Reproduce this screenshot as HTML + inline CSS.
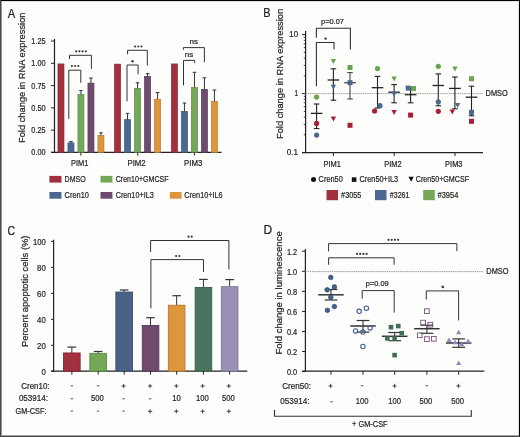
<!DOCTYPE html>
<html><head><meta charset="utf-8"><style>
html,body{margin:0;padding:0;background:#fdfdfb;}
body{width:520px;height:437px;overflow:hidden;position:relative;}
svg{position:absolute;left:0;top:0;will-change:transform;}
svg text{font-family:"Liberation Sans", sans-serif;stroke:#2a2a2a;stroke-width:0.22px;}
</style></head><body>
<svg width="520" height="437" viewBox="0 0 520 437">
<rect x="0" y="0" width="520" height="437" fill="#fdfdfb"/>
<text x="7.70" y="17.60" font-size="12.3" text-anchor="start" fill="#222" textLength="7.5" lengthAdjust="spacingAndGlyphs">A</text>
<text transform="translate(25.4,143) rotate(-90)" font-size="9.7" textLength="130.5" lengthAdjust="spacingAndGlyphs" fill="#222">Fold change in RNA expression</text>
<line x1="54.50" y1="39.00" x2="54.50" y2="152.90" stroke="#222" stroke-width="1.2" />
<line x1="51.00" y1="152.40" x2="221.50" y2="152.40" stroke="#222" stroke-width="1.2" />
<line x1="51.00" y1="152.40" x2="54.50" y2="152.40" stroke="#222" stroke-width="1.0" />
<text x="45.60" y="155.40" font-size="8.8" text-anchor="end" fill="#222" textLength="14.3" lengthAdjust="spacingAndGlyphs">0.00</text>
<line x1="51.00" y1="130.12" x2="54.50" y2="130.12" stroke="#222" stroke-width="1.0" />
<text x="45.60" y="133.12" font-size="8.8" text-anchor="end" fill="#222" textLength="14.3" lengthAdjust="spacingAndGlyphs">0.25</text>
<line x1="51.00" y1="107.85" x2="54.50" y2="107.85" stroke="#222" stroke-width="1.0" />
<text x="45.60" y="110.85" font-size="8.8" text-anchor="end" fill="#222" textLength="14.3" lengthAdjust="spacingAndGlyphs">0.50</text>
<line x1="51.00" y1="85.58" x2="54.50" y2="85.58" stroke="#222" stroke-width="1.0" />
<text x="45.60" y="88.58" font-size="8.8" text-anchor="end" fill="#222" textLength="14.3" lengthAdjust="spacingAndGlyphs">0.75</text>
<line x1="51.00" y1="63.30" x2="54.50" y2="63.30" stroke="#222" stroke-width="1.0" />
<text x="45.60" y="66.30" font-size="8.8" text-anchor="end" fill="#222" textLength="14.3" lengthAdjust="spacingAndGlyphs">1.00</text>
<line x1="51.00" y1="41.03" x2="54.50" y2="41.03" stroke="#222" stroke-width="1.0" />
<text x="45.60" y="44.03" font-size="8.8" text-anchor="end" fill="#222" textLength="14.3" lengthAdjust="spacingAndGlyphs">1.25</text>
<rect x="57.95" y="63.95" width="6.00" height="88.45" fill="#a3303f" stroke="#852733" stroke-width="0.7"/>
<line x1="70.95" y1="141.60" x2="70.95" y2="143.60" stroke="#333" stroke-width="1.0" />
<line x1="69.15" y1="141.60" x2="72.75" y2="141.60" stroke="#333" stroke-width="1.0" />
<rect x="67.95" y="142.95" width="6.00" height="9.45" fill="#4a6890" stroke="#3c5576" stroke-width="0.7"/>
<line x1="80.95" y1="90.60" x2="80.95" y2="95.10" stroke="#333" stroke-width="1.0" />
<line x1="79.15" y1="90.60" x2="82.75" y2="90.60" stroke="#333" stroke-width="1.0" />
<rect x="77.95" y="94.45" width="6.00" height="57.95" fill="#74a858" stroke="#5f8948" stroke-width="0.7"/>
<line x1="90.95" y1="78.00" x2="90.95" y2="83.80" stroke="#333" stroke-width="1.0" />
<line x1="89.15" y1="78.00" x2="92.75" y2="78.00" stroke="#333" stroke-width="1.0" />
<rect x="87.95" y="83.15" width="6.00" height="69.25" fill="#6d4a6e" stroke="#593c5a" stroke-width="0.7"/>
<line x1="100.95" y1="132.80" x2="100.95" y2="136.00" stroke="#333" stroke-width="1.0" />
<line x1="99.15" y1="132.80" x2="102.75" y2="132.80" stroke="#333" stroke-width="1.0" />
<rect x="97.95" y="135.35" width="6.00" height="17.05" fill="#dc963c" stroke="#b47a31" stroke-width="0.7"/>
<rect x="114.55" y="64.15" width="6.00" height="88.25" fill="#a3303f" stroke="#852733" stroke-width="0.7"/>
<line x1="127.55" y1="113.40" x2="127.55" y2="120.30" stroke="#333" stroke-width="1.0" />
<line x1="125.75" y1="113.40" x2="129.35" y2="113.40" stroke="#333" stroke-width="1.0" />
<rect x="124.55" y="119.65" width="6.00" height="32.75" fill="#4a6890" stroke="#3c5576" stroke-width="0.7"/>
<line x1="137.55" y1="82.80" x2="137.55" y2="89.00" stroke="#333" stroke-width="1.0" />
<line x1="135.75" y1="82.80" x2="139.35" y2="82.80" stroke="#333" stroke-width="1.0" />
<rect x="134.55" y="88.35" width="6.00" height="64.05" fill="#74a858" stroke="#5f8948" stroke-width="0.7"/>
<line x1="147.55" y1="73.60" x2="147.55" y2="77.00" stroke="#333" stroke-width="1.0" />
<line x1="145.75" y1="73.60" x2="149.35" y2="73.60" stroke="#333" stroke-width="1.0" />
<rect x="144.55" y="76.35" width="6.00" height="76.05" fill="#6d4a6e" stroke="#593c5a" stroke-width="0.7"/>
<line x1="157.55" y1="92.50" x2="157.55" y2="99.90" stroke="#333" stroke-width="1.0" />
<line x1="155.75" y1="92.50" x2="159.35" y2="92.50" stroke="#333" stroke-width="1.0" />
<rect x="154.55" y="99.25" width="6.00" height="53.15" fill="#dc963c" stroke="#b47a31" stroke-width="0.7"/>
<rect x="171.45" y="63.95" width="6.00" height="88.45" fill="#a3303f" stroke="#852733" stroke-width="0.7"/>
<line x1="184.45" y1="103.00" x2="184.45" y2="112.00" stroke="#333" stroke-width="1.0" />
<line x1="182.65" y1="103.00" x2="186.25" y2="103.00" stroke="#333" stroke-width="1.0" />
<rect x="181.45" y="111.35" width="6.00" height="41.05" fill="#4a6890" stroke="#3c5576" stroke-width="0.7"/>
<line x1="194.45" y1="72.30" x2="194.45" y2="88.00" stroke="#333" stroke-width="1.0" />
<line x1="192.65" y1="72.30" x2="196.25" y2="72.30" stroke="#333" stroke-width="1.0" />
<rect x="191.45" y="87.35" width="6.00" height="65.05" fill="#74a858" stroke="#5f8948" stroke-width="0.7"/>
<line x1="204.45" y1="77.80" x2="204.45" y2="90.00" stroke="#333" stroke-width="1.0" />
<line x1="202.65" y1="77.80" x2="206.25" y2="77.80" stroke="#333" stroke-width="1.0" />
<rect x="201.45" y="89.35" width="6.00" height="63.05" fill="#6d4a6e" stroke="#593c5a" stroke-width="0.7"/>
<line x1="214.45" y1="90.00" x2="214.45" y2="102.20" stroke="#333" stroke-width="1.0" />
<line x1="212.65" y1="90.00" x2="216.25" y2="90.00" stroke="#333" stroke-width="1.0" />
<rect x="211.45" y="101.55" width="6.00" height="50.85" fill="#dc963c" stroke="#b47a31" stroke-width="0.7"/>
<line x1="80.90" y1="152.40" x2="80.90" y2="155.60" stroke="#222" stroke-width="1.0" />
<text x="79.70" y="166.30" font-size="8.8" text-anchor="middle" fill="#222" textLength="17.4" lengthAdjust="spacingAndGlyphs">PIM1</text>
<line x1="137.80" y1="152.40" x2="137.80" y2="155.60" stroke="#222" stroke-width="1.0" />
<text x="136.60" y="166.30" font-size="8.8" text-anchor="middle" fill="#222" textLength="18.2" lengthAdjust="spacingAndGlyphs">PIM2</text>
<line x1="194.40" y1="152.40" x2="194.40" y2="155.60" stroke="#222" stroke-width="1.0" />
<text x="193.20" y="166.30" font-size="8.8" text-anchor="middle" fill="#222" textLength="18.2" lengthAdjust="spacingAndGlyphs">PIM3</text>
<path d="M68.8,118.9 V70.2 H80.8 V82.8" fill="none" stroke="#333" stroke-width="1.0" />
<path d="M69.5,59.1 V55.3 H91.4 V68.9" fill="none" stroke="#333" stroke-width="1.0" />
<circle cx="71.90" cy="66.00" r="1.1" fill="#3a3a3a"/>
<circle cx="75.10" cy="66.00" r="1.1" fill="#3a3a3a"/>
<circle cx="78.30" cy="66.00" r="1.1" fill="#3a3a3a"/>
<circle cx="76.20" cy="51.30" r="1.1" fill="#3a3a3a"/>
<circle cx="79.40" cy="51.30" r="1.1" fill="#3a3a3a"/>
<circle cx="82.60" cy="51.30" r="1.1" fill="#3a3a3a"/>
<circle cx="85.80" cy="51.30" r="1.1" fill="#3a3a3a"/>
<path d="M127,101.4 V65 H138.1 V74.3" fill="none" stroke="#333" stroke-width="1.0" />
<path d="M127.6,54.4 V50.3 H147.3 V65.4" fill="none" stroke="#333" stroke-width="1.0" />
<circle cx="132.50" cy="61.20" r="1.2" fill="#3a3a3a"/>
<circle cx="135.10" cy="46.50" r="1.1" fill="#3a3a3a"/>
<circle cx="138.30" cy="46.50" r="1.1" fill="#3a3a3a"/>
<circle cx="141.50" cy="46.50" r="1.1" fill="#3a3a3a"/>
<path d="M183.5,85.4 V60.4 H194.7 V63.1" fill="none" stroke="#333" stroke-width="1.0" />
<path d="M183.4,49.8 V47.6 H204.4 V62.2" fill="none" stroke="#333" stroke-width="1.0" />
<text x="189.00" y="57.00" font-size="8" text-anchor="middle" fill="#222" >ns</text>
<text x="193.80" y="43.90" font-size="8" text-anchor="middle" fill="#222" >ns</text>
<rect x="49.40" y="175.90" width="12.10" height="6.70" fill="#a3303f" />
<text x="64.60" y="182.20" font-size="9" text-anchor="start" fill="#222" textLength="21" lengthAdjust="spacingAndGlyphs">DMSO</text>
<rect x="100.50" y="175.90" width="11.90" height="6.70" fill="#74a858" />
<text x="115.70" y="182.40" font-size="9" text-anchor="start" fill="#222" textLength="53" lengthAdjust="spacingAndGlyphs">Cren10+GMCSF</text>
<rect x="49.40" y="192.00" width="12.10" height="6.70" fill="#4a6890" />
<text x="64.60" y="198.30" font-size="9" text-anchor="start" fill="#222" textLength="24.3" lengthAdjust="spacingAndGlyphs">Cren10</text>
<rect x="100.50" y="192.00" width="11.90" height="6.70" fill="#6d4a6e" />
<text x="115.70" y="198.30" font-size="9" text-anchor="start" fill="#222" textLength="38.0" lengthAdjust="spacingAndGlyphs">Cren10+IL3</text>
<rect x="169.80" y="192.00" width="11.80" height="6.70" fill="#dc963c" />
<text x="184.30" y="198.30" font-size="9" text-anchor="start" fill="#222" textLength="38.4" lengthAdjust="spacingAndGlyphs">Cren10+IL6</text>
<text x="263.20" y="17.20" font-size="12.3" text-anchor="start" fill="#222" textLength="7.3" lengthAdjust="spacingAndGlyphs">B</text>
<text transform="translate(283.3,139) rotate(-90)" font-size="9.7" textLength="130.1" lengthAdjust="spacingAndGlyphs" fill="#222">Fold change in RNA expression</text>
<line x1="305.60" y1="31.00" x2="305.60" y2="153.10" stroke="#222" stroke-width="1.2" />
<line x1="302.00" y1="152.60" x2="483.00" y2="152.60" stroke="#222" stroke-width="1.2" />
<line x1="302.00" y1="34.60" x2="305.60" y2="34.60" stroke="#222" stroke-width="1.0" />
<text x="298.00" y="37.10" font-size="8.8" text-anchor="end" fill="#222" textLength="8.7" lengthAdjust="spacingAndGlyphs">10</text>
<line x1="302.00" y1="93.60" x2="305.60" y2="93.60" stroke="#222" stroke-width="1.0" />
<text x="298.00" y="96.10" font-size="8.8" text-anchor="end" fill="#222" textLength="3.6" lengthAdjust="spacingAndGlyphs">1</text>
<line x1="302.00" y1="152.60" x2="305.60" y2="152.60" stroke="#222" stroke-width="1.0" />
<text x="298.00" y="155.10" font-size="8.8" text-anchor="end" fill="#222" textLength="11.3" lengthAdjust="spacingAndGlyphs">0.1</text>
<line x1="303.80" y1="134.84" x2="305.60" y2="134.84" stroke="#222" stroke-width="0.9" />
<line x1="303.80" y1="124.45" x2="305.60" y2="124.45" stroke="#222" stroke-width="0.9" />
<line x1="303.80" y1="117.08" x2="305.60" y2="117.08" stroke="#222" stroke-width="0.9" />
<line x1="303.80" y1="111.36" x2="305.60" y2="111.36" stroke="#222" stroke-width="0.9" />
<line x1="303.80" y1="106.69" x2="305.60" y2="106.69" stroke="#222" stroke-width="0.9" />
<line x1="303.80" y1="102.74" x2="305.60" y2="102.74" stroke="#222" stroke-width="0.9" />
<line x1="303.80" y1="99.32" x2="305.60" y2="99.32" stroke="#222" stroke-width="0.9" />
<line x1="303.80" y1="96.30" x2="305.60" y2="96.30" stroke="#222" stroke-width="0.9" />
<line x1="303.80" y1="75.84" x2="305.60" y2="75.84" stroke="#222" stroke-width="0.9" />
<line x1="303.80" y1="65.45" x2="305.60" y2="65.45" stroke="#222" stroke-width="0.9" />
<line x1="303.80" y1="58.08" x2="305.60" y2="58.08" stroke="#222" stroke-width="0.9" />
<line x1="303.80" y1="52.36" x2="305.60" y2="52.36" stroke="#222" stroke-width="0.9" />
<line x1="303.80" y1="47.69" x2="305.60" y2="47.69" stroke="#222" stroke-width="0.9" />
<line x1="303.80" y1="43.74" x2="305.60" y2="43.74" stroke="#222" stroke-width="0.9" />
<line x1="303.80" y1="40.32" x2="305.60" y2="40.32" stroke="#222" stroke-width="0.9" />
<line x1="303.80" y1="37.30" x2="305.60" y2="37.30" stroke="#222" stroke-width="0.9" />
<line x1="305.6" y1="93.6" x2="483" y2="93.6" stroke="#a0a0a0" stroke-width="1" stroke-dasharray="1.5,0.7"/>
<text x="485.60" y="96.40" font-size="8.6" text-anchor="start" fill="#222" textLength="22.2" lengthAdjust="spacingAndGlyphs">DMSO</text>
<line x1="333.40" y1="152.60" x2="333.40" y2="156.00" stroke="#222" stroke-width="1.0" />
<text x="332.20" y="166.60" font-size="8.8" text-anchor="middle" fill="#222" textLength="17.4" lengthAdjust="spacingAndGlyphs">PIM1</text>
<line x1="394.20" y1="152.60" x2="394.20" y2="156.00" stroke="#222" stroke-width="1.0" />
<text x="393.00" y="166.60" font-size="8.8" text-anchor="middle" fill="#222" textLength="17.4" lengthAdjust="spacingAndGlyphs">PIM2</text>
<line x1="455.00" y1="152.60" x2="455.00" y2="156.00" stroke="#222" stroke-width="1.0" />
<text x="453.80" y="166.60" font-size="8.8" text-anchor="middle" fill="#222" textLength="17.4" lengthAdjust="spacingAndGlyphs">PIM3</text>
<line x1="316.60" y1="104.00" x2="316.60" y2="128.60" stroke="#222" stroke-width="1.1" />
<line x1="313.80" y1="104.00" x2="319.40" y2="104.00" stroke="#222" stroke-width="1.1" />
<line x1="313.80" y1="128.60" x2="319.40" y2="128.60" stroke="#222" stroke-width="1.1" />
<line x1="310.80" y1="113.40" x2="322.40" y2="113.40" stroke="#222" stroke-width="1.3" />
<circle cx="316.60" cy="97.10" r="2.6" fill="#68a44e"/>
<circle cx="316.60" cy="123.40" r="2.6" fill="#a81e37"/>
<circle cx="316.60" cy="135.10" r="2.6" fill="#4a6890"/>
<line x1="333.40" y1="68.80" x2="333.40" y2="100.20" stroke="#222" stroke-width="1.1" />
<line x1="330.60" y1="68.80" x2="336.20" y2="68.80" stroke="#222" stroke-width="1.1" />
<line x1="330.60" y1="100.20" x2="336.20" y2="100.20" stroke="#222" stroke-width="1.1" />
<line x1="327.60" y1="80.00" x2="339.20" y2="80.00" stroke="#222" stroke-width="1.3" />
<path d="M330.70,59.10 H336.10 L333.40,64.10 Z" fill="#68a44e"/>
<path d="M330.70,84.80 H336.10 L333.40,89.80 Z" fill="#4a6890"/>
<path d="M330.70,116.60 H336.10 L333.40,121.60 Z" fill="#a81e37"/>
<line x1="350.00" y1="72.60" x2="350.00" y2="99.00" stroke="#444" stroke-width="1.1" />
<line x1="347.20" y1="72.60" x2="352.80" y2="72.60" stroke="#444" stroke-width="1.1" />
<line x1="347.20" y1="99.00" x2="352.80" y2="99.00" stroke="#444" stroke-width="1.1" />
<line x1="344.20" y1="82.70" x2="355.80" y2="82.70" stroke="#444" stroke-width="1.3" />
<rect x="347.50" y="65.00" width="5.0" height="5.0" fill="#68a44e"/>
<rect x="347.50" y="80.20" width="5.0" height="5.0" fill="#4a6890"/>
<rect x="347.50" y="122.80" width="5.0" height="5.0" fill="#a81e37"/>
<line x1="377.50" y1="76.40" x2="377.50" y2="108.00" stroke="#222" stroke-width="1.1" />
<line x1="374.70" y1="76.40" x2="380.30" y2="76.40" stroke="#222" stroke-width="1.1" />
<line x1="374.70" y1="108.00" x2="380.30" y2="108.00" stroke="#222" stroke-width="1.1" />
<line x1="371.70" y1="87.70" x2="383.30" y2="87.70" stroke="#222" stroke-width="1.3" />
<circle cx="377.50" cy="68.60" r="2.6" fill="#68a44e"/>
<circle cx="380.00" cy="105.70" r="2.6" fill="#4a6890"/>
<circle cx="374.60" cy="111.00" r="2.6" fill="#a81e37"/>
<line x1="394.10" y1="84.60" x2="394.10" y2="102.80" stroke="#222" stroke-width="1.1" />
<line x1="391.30" y1="84.60" x2="396.90" y2="84.60" stroke="#222" stroke-width="1.1" />
<line x1="391.30" y1="102.80" x2="396.90" y2="102.80" stroke="#222" stroke-width="1.1" />
<line x1="388.30" y1="92.20" x2="399.90" y2="92.20" stroke="#222" stroke-width="1.3" />
<path d="M391.40,76.40 H396.80 L394.10,81.40 Z" fill="#68a44e"/>
<path d="M391.40,91.70 H396.80 L394.10,96.70 Z" fill="#4a6890"/>
<path d="M391.40,109.90 H396.80 L394.10,114.90 Z" fill="#a81e37"/>
<line x1="410.60" y1="88.00" x2="410.60" y2="102.80" stroke="#222" stroke-width="1.1" />
<line x1="407.80" y1="88.00" x2="413.40" y2="88.00" stroke="#222" stroke-width="1.1" />
<line x1="407.80" y1="102.80" x2="413.40" y2="102.80" stroke="#222" stroke-width="1.1" />
<line x1="404.80" y1="94.70" x2="416.40" y2="94.70" stroke="#222" stroke-width="1.3" />
<rect x="405.70" y="85.60" width="5.0" height="5.0" fill="#4a6890"/>
<rect x="411.00" y="86.00" width="5.0" height="5.0" fill="#68a44e"/>
<rect x="408.10" y="112.60" width="5.0" height="5.0" fill="#a81e37"/>
<line x1="438.30" y1="73.90" x2="438.30" y2="105.80" stroke="#222" stroke-width="1.1" />
<line x1="435.50" y1="73.90" x2="441.10" y2="73.90" stroke="#222" stroke-width="1.1" />
<line x1="435.50" y1="105.80" x2="441.10" y2="105.80" stroke="#222" stroke-width="1.1" />
<line x1="432.50" y1="85.50" x2="444.10" y2="85.50" stroke="#222" stroke-width="1.3" />
<circle cx="438.30" cy="66.30" r="2.6" fill="#68a44e"/>
<circle cx="438.30" cy="101.80" r="2.6" fill="#4a6890"/>
<circle cx="438.30" cy="111.30" r="2.6" fill="#a81e37"/>
<line x1="454.90" y1="77.00" x2="454.90" y2="108.80" stroke="#222" stroke-width="1.1" />
<line x1="452.10" y1="77.00" x2="457.70" y2="77.00" stroke="#222" stroke-width="1.1" />
<line x1="452.10" y1="108.80" x2="457.70" y2="108.80" stroke="#222" stroke-width="1.1" />
<line x1="449.10" y1="88.40" x2="460.70" y2="88.40" stroke="#222" stroke-width="1.3" />
<path d="M452.20,66.40 H457.60 L454.90,71.40 Z" fill="#68a44e"/>
<path d="M454.90,103.00 H460.30 L457.60,108.00 Z" fill="#4a6890"/>
<path d="M449.60,109.50 H455.00 L452.30,114.50 Z" fill="#a81e37"/>
<line x1="471.50" y1="86.20" x2="471.50" y2="115.80" stroke="#222" stroke-width="1.1" />
<line x1="468.70" y1="86.20" x2="474.30" y2="86.20" stroke="#222" stroke-width="1.1" />
<line x1="468.70" y1="115.80" x2="474.30" y2="115.80" stroke="#222" stroke-width="1.1" />
<line x1="465.70" y1="97.20" x2="477.30" y2="97.20" stroke="#222" stroke-width="1.3" />
<rect x="469.00" y="76.20" width="5.0" height="5.0" fill="#68a44e"/>
<rect x="469.00" y="109.80" width="5.0" height="5.0" fill="#4a6890"/>
<rect x="469.00" y="118.80" width="5.0" height="5.0" fill="#a81e37"/>
<path d="M316.4,37.7 V28.2 H350.4 V49.6" fill="none" stroke="#333" stroke-width="1.1" />
<path d="M316.4,86.2 V42.5 H334 V49.3" fill="none" stroke="#333" stroke-width="1.1" />
<text x="321.10" y="24.40" font-size="7.2" text-anchor="start" fill="#222" textLength="22.8" lengthAdjust="spacingAndGlyphs">p=0.07</text>
<circle cx="325.60" cy="38.60" r="1.2" fill="#3a3a3a"/>
<circle cx="313.50" cy="179.40" r="2.5" fill="#111"/>
<text x="318.60" y="182.40" font-size="9" text-anchor="start" fill="#222" textLength="24.2" lengthAdjust="spacingAndGlyphs">Cren50</text>
<rect x="351.80" y="177.30" width="4.6" height="4.6" fill="#111"/>
<text x="359.40" y="182.40" font-size="9" text-anchor="start" fill="#222" textLength="38.8" lengthAdjust="spacingAndGlyphs">Cren50+IL3</text>
<path d="M408.45,176.85 H413.75 L411.10,181.75 Z" fill="#111"/>
<text x="415.80" y="182.40" font-size="9" text-anchor="start" fill="#222" textLength="53.2" lengthAdjust="spacingAndGlyphs">Cren50+GMCSF</text>
<rect x="326.50" y="190.00" width="11.50" height="10.20" fill="#a3303f" />
<text x="341.10" y="197.90" font-size="8.8" text-anchor="start" fill="#222" textLength="20.2" lengthAdjust="spacingAndGlyphs">#3055</text>
<rect x="375.00" y="190.00" width="11.50" height="10.20" fill="#4a6890" />
<text x="389.80" y="197.90" font-size="8.8" text-anchor="start" fill="#222" textLength="19.6" lengthAdjust="spacingAndGlyphs">#3261</text>
<rect x="423.20" y="190.00" width="11.60" height="10.20" fill="#74a858" />
<text x="437.50" y="197.90" font-size="8.8" text-anchor="start" fill="#222" textLength="20.9" lengthAdjust="spacingAndGlyphs">#3954</text>
<text x="7.60" y="234.90" font-size="12.3" text-anchor="start" fill="#222" textLength="7.6" lengthAdjust="spacingAndGlyphs">C</text>
<text transform="translate(27.9,347.1) rotate(-90)" font-size="9.7" textLength="111.6" lengthAdjust="spacingAndGlyphs" fill="#222">Percent apoptotic cells (%)</text>
<line x1="53.60" y1="239.80" x2="53.60" y2="371.80" stroke="#222" stroke-width="1.2" />
<line x1="51.00" y1="371.20" x2="247.30" y2="371.20" stroke="#222" stroke-width="1.2" />
<line x1="51.00" y1="371.30" x2="53.60" y2="371.30" stroke="#222" stroke-width="1.0" />
<text x="45.80" y="374.90" font-size="8.8" text-anchor="end" fill="#222" textLength="4.4" lengthAdjust="spacingAndGlyphs">0</text>
<line x1="51.00" y1="345.31" x2="53.60" y2="345.31" stroke="#222" stroke-width="1.0" />
<text x="45.80" y="348.91" font-size="8.8" text-anchor="end" fill="#222" textLength="8.7" lengthAdjust="spacingAndGlyphs">20</text>
<line x1="51.00" y1="319.32" x2="53.60" y2="319.32" stroke="#222" stroke-width="1.0" />
<text x="45.80" y="322.92" font-size="8.8" text-anchor="end" fill="#222" textLength="8.7" lengthAdjust="spacingAndGlyphs">40</text>
<line x1="51.00" y1="293.33" x2="53.60" y2="293.33" stroke="#222" stroke-width="1.0" />
<text x="45.80" y="296.93" font-size="8.8" text-anchor="end" fill="#222" textLength="8.7" lengthAdjust="spacingAndGlyphs">60</text>
<line x1="51.00" y1="267.34" x2="53.60" y2="267.34" stroke="#222" stroke-width="1.0" />
<text x="45.80" y="270.94" font-size="8.8" text-anchor="end" fill="#222" textLength="8.7" lengthAdjust="spacingAndGlyphs">80</text>
<line x1="51.00" y1="241.35" x2="53.60" y2="241.35" stroke="#222" stroke-width="1.0" />
<text x="45.80" y="244.95" font-size="8.8" text-anchor="end" fill="#222" textLength="12.8" lengthAdjust="spacingAndGlyphs">100</text>
<line x1="71.85" y1="347.10" x2="71.85" y2="353.50" stroke="#333" stroke-width="1.0" />
<line x1="67.55" y1="347.10" x2="76.15" y2="347.10" stroke="#333" stroke-width="1.2" />
<rect x="63.55" y="352.95" width="16.60" height="18.25" fill="#a3303f" stroke="#852733" stroke-width="0.9"/>
<line x1="71.85" y1="371.20" x2="71.85" y2="374.60" stroke="#222" stroke-width="1.0" />
<line x1="98.15" y1="351.50" x2="98.15" y2="353.90" stroke="#333" stroke-width="1.0" />
<line x1="93.85" y1="351.50" x2="102.45" y2="351.50" stroke="#333" stroke-width="1.2" />
<rect x="89.85" y="353.35" width="16.60" height="17.85" fill="#74a858" stroke="#5f8948" stroke-width="0.9"/>
<line x1="98.15" y1="371.20" x2="98.15" y2="374.60" stroke="#222" stroke-width="1.0" />
<line x1="124.15" y1="290.00" x2="124.15" y2="292.60" stroke="#333" stroke-width="1.0" />
<line x1="119.85" y1="290.00" x2="128.45" y2="290.00" stroke="#333" stroke-width="1.2" />
<rect x="115.85" y="292.05" width="16.60" height="79.15" fill="#4a6187" stroke="#3c4f6e" stroke-width="0.9"/>
<line x1="124.15" y1="371.20" x2="124.15" y2="374.60" stroke="#222" stroke-width="1.0" />
<line x1="150.55" y1="317.70" x2="150.55" y2="326.00" stroke="#333" stroke-width="1.0" />
<line x1="146.25" y1="317.70" x2="154.85" y2="317.70" stroke="#333" stroke-width="1.2" />
<rect x="142.25" y="325.45" width="16.60" height="45.75" fill="#6d4a6e" stroke="#593c5a" stroke-width="0.9"/>
<line x1="150.55" y1="371.20" x2="150.55" y2="374.60" stroke="#222" stroke-width="1.0" />
<line x1="176.65" y1="295.70" x2="176.65" y2="305.80" stroke="#333" stroke-width="1.0" />
<line x1="172.35" y1="295.70" x2="180.95" y2="295.70" stroke="#333" stroke-width="1.2" />
<rect x="168.35" y="305.25" width="16.60" height="65.95" fill="#dc963c" stroke="#b47a31" stroke-width="0.9"/>
<line x1="176.65" y1="371.20" x2="176.65" y2="374.60" stroke="#222" stroke-width="1.0" />
<line x1="203.45" y1="279.40" x2="203.45" y2="288.00" stroke="#333" stroke-width="1.0" />
<line x1="199.15" y1="279.40" x2="207.75" y2="279.40" stroke="#333" stroke-width="1.2" />
<rect x="195.15" y="287.45" width="16.60" height="83.75" fill="#48735d" stroke="#3b5e4c" stroke-width="0.9"/>
<line x1="203.45" y1="371.20" x2="203.45" y2="374.60" stroke="#222" stroke-width="1.0" />
<line x1="229.65" y1="279.60" x2="229.65" y2="287.20" stroke="#333" stroke-width="1.0" />
<line x1="225.35" y1="279.60" x2="233.95" y2="279.60" stroke="#333" stroke-width="1.2" />
<rect x="221.35" y="286.65" width="16.60" height="84.55" fill="#9a90b8" stroke="#7e7696" stroke-width="0.9"/>
<line x1="229.65" y1="371.20" x2="229.65" y2="374.60" stroke="#222" stroke-width="1.0" />
<path d="M150.6,252.1 V240.5 H228.9 V269.4" fill="none" stroke="#333" stroke-width="1.0" />
<path d="M150.9,308.3 V259.6 H203.5 V272" fill="none" stroke="#333" stroke-width="1.0" />
<circle cx="188.50" cy="236.70" r="1.1" fill="#3a3a3a"/>
<circle cx="191.70" cy="236.70" r="1.1" fill="#3a3a3a"/>
<circle cx="176.10" cy="256.00" r="1.1" fill="#3a3a3a"/>
<circle cx="179.30" cy="256.00" r="1.1" fill="#3a3a3a"/>
<text x="21.30" y="388.60" font-size="9" text-anchor="start" fill="#222" textLength="28.2" lengthAdjust="spacingAndGlyphs">Cren10:</text>
<text x="18.90" y="401.20" font-size="9" text-anchor="start" fill="#222" textLength="29.0" lengthAdjust="spacingAndGlyphs">053914:</text>
<text x="15.50" y="414.00" font-size="9" text-anchor="start" fill="#222" textLength="31.0" lengthAdjust="spacingAndGlyphs">GM-CSF:</text>
<line x1="70.60" y1="385.80" x2="73.00" y2="385.80" stroke="#444" stroke-width="0.9" />
<line x1="70.60" y1="398.80" x2="73.00" y2="398.80" stroke="#444" stroke-width="0.9" />
<line x1="70.60" y1="411.10" x2="73.00" y2="411.10" stroke="#444" stroke-width="0.9" />
<line x1="96.90" y1="385.80" x2="99.30" y2="385.80" stroke="#444" stroke-width="0.9" />
<text x="97.30" y="401.10" font-size="8.8" text-anchor="middle" fill="#222" textLength="12.8" lengthAdjust="spacingAndGlyphs">500</text>
<line x1="96.90" y1="411.10" x2="99.30" y2="411.10" stroke="#444" stroke-width="0.9" />
<line x1="121.50" y1="386.00" x2="125.70" y2="386.00" stroke="#333" stroke-width="0.9" />
<line x1="123.60" y1="383.90" x2="123.60" y2="388.10" stroke="#333" stroke-width="0.9" />
<line x1="122.40" y1="398.80" x2="124.80" y2="398.80" stroke="#444" stroke-width="0.9" />
<line x1="122.40" y1="411.10" x2="124.80" y2="411.10" stroke="#444" stroke-width="0.9" />
<line x1="148.00" y1="386.00" x2="152.20" y2="386.00" stroke="#333" stroke-width="0.9" />
<line x1="150.10" y1="383.90" x2="150.10" y2="388.10" stroke="#333" stroke-width="0.9" />
<line x1="148.90" y1="398.80" x2="151.30" y2="398.80" stroke="#444" stroke-width="0.9" />
<line x1="148.00" y1="411.30" x2="152.20" y2="411.30" stroke="#333" stroke-width="0.9" />
<line x1="150.10" y1="409.20" x2="150.10" y2="413.40" stroke="#333" stroke-width="0.9" />
<line x1="174.20" y1="386.00" x2="178.40" y2="386.00" stroke="#333" stroke-width="0.9" />
<line x1="176.30" y1="383.90" x2="176.30" y2="388.10" stroke="#333" stroke-width="0.9" />
<text x="176.60" y="401.10" font-size="8.8" text-anchor="middle" fill="#222" textLength="8.7" lengthAdjust="spacingAndGlyphs">10</text>
<line x1="174.20" y1="411.30" x2="178.40" y2="411.30" stroke="#333" stroke-width="0.9" />
<line x1="176.30" y1="409.20" x2="176.30" y2="413.40" stroke="#333" stroke-width="0.9" />
<line x1="200.50" y1="386.00" x2="204.70" y2="386.00" stroke="#333" stroke-width="0.9" />
<line x1="202.60" y1="383.90" x2="202.60" y2="388.10" stroke="#333" stroke-width="0.9" />
<text x="202.40" y="401.10" font-size="8.8" text-anchor="middle" fill="#222" textLength="12.8" lengthAdjust="spacingAndGlyphs">100</text>
<line x1="200.50" y1="411.30" x2="204.70" y2="411.30" stroke="#333" stroke-width="0.9" />
<line x1="202.60" y1="409.20" x2="202.60" y2="413.40" stroke="#333" stroke-width="0.9" />
<line x1="226.70" y1="386.00" x2="230.90" y2="386.00" stroke="#333" stroke-width="0.9" />
<line x1="228.80" y1="383.90" x2="228.80" y2="388.10" stroke="#333" stroke-width="0.9" />
<text x="228.30" y="401.10" font-size="8.8" text-anchor="middle" fill="#222" textLength="12.8" lengthAdjust="spacingAndGlyphs">500</text>
<line x1="226.70" y1="411.30" x2="230.90" y2="411.30" stroke="#333" stroke-width="0.9" />
<line x1="228.80" y1="409.20" x2="228.80" y2="413.40" stroke="#333" stroke-width="0.9" />
<text x="263.60" y="234.20" font-size="12.3" text-anchor="start" fill="#222" textLength="8.7" lengthAdjust="spacingAndGlyphs">D</text>
<text transform="translate(282.4,354.5) rotate(-90)" font-size="9.7" textLength="123.2" lengthAdjust="spacingAndGlyphs" fill="#222">Fold change in luminescence</text>
<line x1="305.40" y1="249.00" x2="305.40" y2="371.90" stroke="#222" stroke-width="1.2" />
<line x1="302.00" y1="371.20" x2="484.30" y2="371.20" stroke="#222" stroke-width="1.2" />
<line x1="302.00" y1="371.60" x2="305.40" y2="371.60" stroke="#222" stroke-width="1.0" />
<text x="297.20" y="375.10" font-size="8.8" text-anchor="end" fill="#222" textLength="10.3" lengthAdjust="spacingAndGlyphs">0.0</text>
<line x1="302.00" y1="351.54" x2="305.40" y2="351.54" stroke="#222" stroke-width="1.0" />
<text x="297.20" y="355.04" font-size="8.8" text-anchor="end" fill="#222" textLength="10.3" lengthAdjust="spacingAndGlyphs">0.2</text>
<line x1="302.00" y1="331.48" x2="305.40" y2="331.48" stroke="#222" stroke-width="1.0" />
<text x="297.20" y="334.98" font-size="8.8" text-anchor="end" fill="#222" textLength="10.3" lengthAdjust="spacingAndGlyphs">0.4</text>
<line x1="302.00" y1="311.42" x2="305.40" y2="311.42" stroke="#222" stroke-width="1.0" />
<text x="297.20" y="314.92" font-size="8.8" text-anchor="end" fill="#222" textLength="10.3" lengthAdjust="spacingAndGlyphs">0.6</text>
<line x1="302.00" y1="291.36" x2="305.40" y2="291.36" stroke="#222" stroke-width="1.0" />
<text x="297.20" y="294.86" font-size="8.8" text-anchor="end" fill="#222" textLength="10.3" lengthAdjust="spacingAndGlyphs">0.8</text>
<line x1="302.00" y1="271.30" x2="305.40" y2="271.30" stroke="#222" stroke-width="1.0" />
<text x="297.20" y="274.80" font-size="8.8" text-anchor="end" fill="#222" textLength="10.3" lengthAdjust="spacingAndGlyphs">1.0</text>
<line x1="302.00" y1="251.24" x2="305.40" y2="251.24" stroke="#222" stroke-width="1.0" />
<text x="297.20" y="254.74" font-size="8.8" text-anchor="end" fill="#222" textLength="10.3" lengthAdjust="spacingAndGlyphs">1.2</text>
<line x1="305.4" y1="271.6" x2="483.5" y2="271.6" stroke="#a0a0a0" stroke-width="1" stroke-dasharray="1.5,0.7"/>
<text x="486.30" y="274.30" font-size="8.6" text-anchor="start" fill="#222" textLength="22.2" lengthAdjust="spacingAndGlyphs">DMSO</text>
<line x1="331.00" y1="371.20" x2="331.00" y2="374.80" stroke="#222" stroke-width="1.0" />
<line x1="363.00" y1="371.20" x2="363.00" y2="374.80" stroke="#222" stroke-width="1.0" />
<line x1="394.70" y1="371.20" x2="394.70" y2="374.80" stroke="#222" stroke-width="1.0" />
<line x1="426.90" y1="371.20" x2="426.90" y2="374.80" stroke="#222" stroke-width="1.0" />
<line x1="458.70" y1="371.20" x2="458.70" y2="374.80" stroke="#222" stroke-width="1.0" />
<line x1="331.00" y1="289.50" x2="331.00" y2="300.00" stroke="#333" stroke-width="1.1" />
<line x1="324.60" y1="289.50" x2="337.40" y2="289.50" stroke="#333" stroke-width="1.2" />
<line x1="324.60" y1="300.00" x2="337.40" y2="300.00" stroke="#333" stroke-width="1.2" />
<line x1="318.25" y1="294.80" x2="343.75" y2="294.80" stroke="#333" stroke-width="1.5" />
<circle cx="330.8" cy="277.4" r="2.35" fill="#41608f" stroke="#2f4670" stroke-width="0.6"/>
<circle cx="334.4" cy="286.9" r="2.35" fill="#41608f" stroke="#2f4670" stroke-width="0.6"/>
<circle cx="327.2" cy="289.8" r="2.35" fill="#41608f" stroke="#2f4670" stroke-width="0.6"/>
<circle cx="330.8" cy="297.3" r="2.35" fill="#41608f" stroke="#2f4670" stroke-width="0.6"/>
<circle cx="334.4" cy="306.6" r="2.35" fill="#41608f" stroke="#2f4670" stroke-width="0.6"/>
<circle cx="327.4" cy="310.3" r="2.35" fill="#41608f" stroke="#2f4670" stroke-width="0.6"/>
<line x1="363.00" y1="320.50" x2="363.00" y2="332.10" stroke="#333" stroke-width="1.1" />
<line x1="356.60" y1="320.50" x2="369.40" y2="320.50" stroke="#333" stroke-width="1.2" />
<line x1="356.60" y1="332.10" x2="369.40" y2="332.10" stroke="#333" stroke-width="1.2" />
<line x1="350.25" y1="326.00" x2="375.75" y2="326.00" stroke="#333" stroke-width="1.5" />
<circle cx="359.2" cy="311.3" r="2.2" fill="none" stroke="#3f5f95" stroke-width="1.1"/>
<circle cx="366.4" cy="308.2" r="2.2" fill="none" stroke="#3f5f95" stroke-width="1.1"/>
<circle cx="355.6" cy="330.9" r="2.2" fill="none" stroke="#3f5f95" stroke-width="1.1"/>
<circle cx="362.9" cy="332.0" r="2.2" fill="none" stroke="#3f5f95" stroke-width="1.1"/>
<circle cx="370.1" cy="327.9" r="2.2" fill="none" stroke="#3f5f95" stroke-width="1.1"/>
<circle cx="362.9" cy="346.5" r="2.2" fill="none" stroke="#3f5f95" stroke-width="1.1"/>
<line x1="394.70" y1="332.50" x2="394.70" y2="340.70" stroke="#333" stroke-width="1.1" />
<line x1="388.30" y1="332.50" x2="401.10" y2="332.50" stroke="#333" stroke-width="1.2" />
<line x1="388.30" y1="340.70" x2="401.10" y2="340.70" stroke="#333" stroke-width="1.2" />
<line x1="381.95" y1="336.30" x2="407.45" y2="336.30" stroke="#333" stroke-width="1.5" />
<rect x="388.70" y="324.90" width="4.6" height="4.6" fill="#3f6e55"/>
<rect x="396.00" y="323.80" width="4.6" height="4.6" fill="#3f6e55"/>
<rect x="399.40" y="330.90" width="4.6" height="4.6" fill="#3f6e55"/>
<rect x="385.00" y="336.10" width="4.6" height="4.6" fill="#3f6e55"/>
<rect x="392.30" y="336.10" width="4.6" height="4.6" fill="#3f6e55"/>
<rect x="392.30" y="352.80" width="4.6" height="4.6" fill="#3f6e55"/>
<line x1="426.90" y1="325.20" x2="426.90" y2="333.30" stroke="#333" stroke-width="1.1" />
<line x1="420.50" y1="325.20" x2="433.30" y2="325.20" stroke="#333" stroke-width="1.2" />
<line x1="420.50" y1="333.30" x2="433.30" y2="333.30" stroke="#333" stroke-width="1.2" />
<line x1="414.15" y1="328.70" x2="439.65" y2="328.70" stroke="#333" stroke-width="1.5" />
<rect x="424.55" y="308.85" width="4.7" height="4.7" fill="none" stroke="#7a4f80" stroke-width="0.9"/>
<rect x="420.75" y="320.25" width="4.7" height="4.7" fill="none" stroke="#7a4f80" stroke-width="0.9"/>
<rect x="427.95" y="322.35" width="4.7" height="4.7" fill="none" stroke="#7a4f80" stroke-width="0.9"/>
<rect x="417.35" y="332.95" width="4.7" height="4.7" fill="none" stroke="#7a4f80" stroke-width="0.9"/>
<rect x="424.55" y="336.75" width="4.7" height="4.7" fill="none" stroke="#7a4f80" stroke-width="0.9"/>
<rect x="431.45" y="336.45" width="4.7" height="4.7" fill="none" stroke="#7a4f80" stroke-width="0.9"/>
<line x1="458.70" y1="338.90" x2="458.70" y2="347.30" stroke="#333" stroke-width="1.1" />
<line x1="452.30" y1="338.90" x2="465.10" y2="338.90" stroke="#333" stroke-width="1.2" />
<line x1="452.30" y1="347.30" x2="465.10" y2="347.30" stroke="#333" stroke-width="1.2" />
<line x1="445.95" y1="343.00" x2="471.45" y2="343.00" stroke="#333" stroke-width="1.5" />
<path d="M456.10,334.30 H461.30 L458.70,329.70 Z" fill="#9088c0"/>
<path d="M446.50,342.10 H451.70 L449.10,337.50 Z" fill="#9088c0"/>
<path d="M452.50,344.30 H457.70 L455.10,339.70 Z" fill="#9088c0"/>
<path d="M459.10,346.20 H464.30 L461.70,341.60 Z" fill="#9088c0"/>
<path d="M465.50,343.10 H470.70 L468.10,338.50 Z" fill="#9088c0"/>
<path d="M456.10,365.10 H461.30 L458.70,360.50 Z" fill="#9088c0"/>
<path d="M328.6,251.4 V243.6 H456.9 V251.1" fill="none" stroke="#333" stroke-width="1.0" />
<path d="M328.6,264.8 V257.8 H394.1 V264.8" fill="none" stroke="#333" stroke-width="1.0" />
<path d="M362.2,298.5 V290.6 H394.2 V312.6" fill="none" stroke="#333" stroke-width="1.0" />
<path d="M426.3,299.5 V290.9 H458.6 V320.5" fill="none" stroke="#333" stroke-width="1.0" />
<circle cx="388.50" cy="239.80" r="1.1" fill="#3a3a3a"/>
<circle cx="391.70" cy="239.80" r="1.1" fill="#3a3a3a"/>
<circle cx="394.90" cy="239.80" r="1.1" fill="#3a3a3a"/>
<circle cx="398.10" cy="239.80" r="1.1" fill="#3a3a3a"/>
<circle cx="357.00" cy="253.90" r="1.1" fill="#3a3a3a"/>
<circle cx="360.20" cy="253.90" r="1.1" fill="#3a3a3a"/>
<circle cx="363.40" cy="253.90" r="1.1" fill="#3a3a3a"/>
<circle cx="366.60" cy="253.90" r="1.1" fill="#3a3a3a"/>
<circle cx="442.80" cy="286.90" r="1.3" fill="#3a3a3a"/>
<text x="365.80" y="285.90" font-size="7.4" text-anchor="start" fill="#222" textLength="22.8" lengthAdjust="spacingAndGlyphs">p=0.09</text>
<text x="282.30" y="388.50" font-size="9" text-anchor="start" fill="#222" textLength="28.6" lengthAdjust="spacingAndGlyphs">Cren50:</text>
<text x="280.30" y="404.20" font-size="9" text-anchor="start" fill="#222" textLength="29.3" lengthAdjust="spacingAndGlyphs">053914:</text>
<line x1="328.50" y1="385.90" x2="332.70" y2="385.90" stroke="#333" stroke-width="0.9" />
<line x1="330.60" y1="383.80" x2="330.60" y2="388.00" stroke="#333" stroke-width="0.9" />
<line x1="330.30" y1="401.80" x2="332.70" y2="401.80" stroke="#444" stroke-width="0.9" />
<line x1="360.80" y1="385.70" x2="363.20" y2="385.70" stroke="#444" stroke-width="0.9" />
<text x="362.20" y="404.20" font-size="8.8" text-anchor="middle" fill="#222" textLength="12.8" lengthAdjust="spacingAndGlyphs">100</text>
<line x1="392.50" y1="385.90" x2="396.70" y2="385.90" stroke="#333" stroke-width="0.9" />
<line x1="394.60" y1="383.80" x2="394.60" y2="388.00" stroke="#333" stroke-width="0.9" />
<text x="394.70" y="404.20" font-size="8.8" text-anchor="middle" fill="#222" textLength="12.8" lengthAdjust="spacingAndGlyphs">100</text>
<line x1="425.60" y1="385.70" x2="428.00" y2="385.70" stroke="#444" stroke-width="0.9" />
<text x="425.90" y="404.20" font-size="8.8" text-anchor="middle" fill="#222" textLength="12.8" lengthAdjust="spacingAndGlyphs">500</text>
<line x1="456.30" y1="385.90" x2="460.50" y2="385.90" stroke="#333" stroke-width="0.9" />
<line x1="458.40" y1="383.80" x2="458.40" y2="388.00" stroke="#333" stroke-width="0.9" />
<text x="457.60" y="404.20" font-size="8.8" text-anchor="middle" fill="#222" textLength="12.8" lengthAdjust="spacingAndGlyphs">500</text>
<path d="M274.5,410 V416.3 H471.3 V410" fill="none" stroke="#333" stroke-width="1.1" />
<text x="352.00" y="427.30" font-size="9" text-anchor="start" fill="#222" textLength="35.6" lengthAdjust="spacingAndGlyphs">+ GM-CSF</text>
<rect x="0" y="1" width="520" height="1" fill="#e2e2e2"/>
<rect x="518" y="0" width="1" height="437" fill="#e4e4e4"/>
<rect x="0" y="435" width="520" height="1" fill="#a4a4a4"/>
<rect x="0" y="0" width="520" height="1" fill="#000"/>
<rect x="519" y="0" width="1" height="437" fill="#000"/>
<rect x="0" y="0" width="1" height="437" fill="#484848"/>
<rect x="1" y="1" width="1" height="435" fill="#9a9a9a"/>
<rect x="0" y="436" width="520" height="1" fill="#464646"/>
</svg>
</body></html>
